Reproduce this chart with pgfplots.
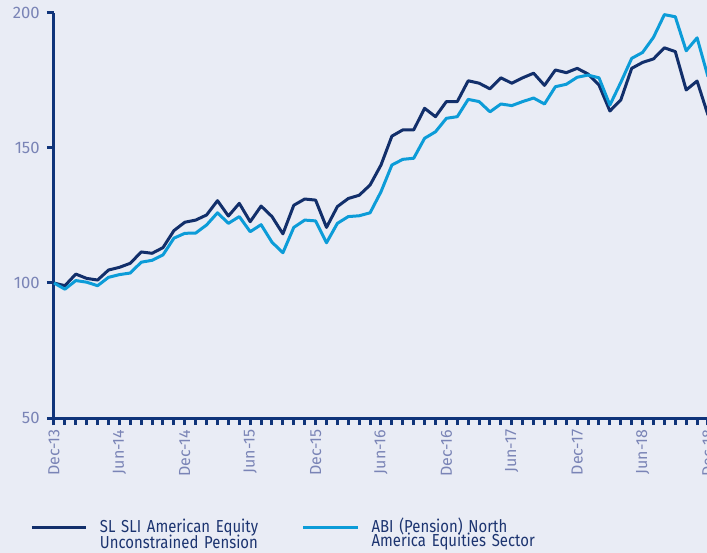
\documentclass[border=0pt]{standalone}
\usepackage{pgfplots}
\pgfplotsset{compat=1.18}
\usepackage{fontspec}
\setmainfont{Fira Sans}[FakeStretch=0.86]
\newfontfamily\tickfont{Fira Sans}
\definecolor{bg}{RGB}{233,236,245}
\definecolor{darkc}{RGB}{18,47,107}
\definecolor{lightc}{RGB}{12,156,216}
\definecolor{axisc}{RGB}{16,52,122}
\definecolor{tickc}{RGB}{122,132,182}
\definecolor{legc}{RGB}{28,52,112}
\pgfplotstableread{
i d l
0 100.0 100.0
1 99.0 97.7
2 103.3 100.9
3 101.7 100.3
4 101.1 99.0
5 104.8 102.1
6 105.8 103.1
7 107.3 103.7
8 111.5 107.7
9 111.0 108.4
10 113.1 110.4
11 119.4 116.6
12 122.5 118.4
13 123.3 118.5
14 125.2 121.5
15 130.5 126.0
16 124.8 122.1
17 129.5 124.6
18 122.7 119.0
19 128.5 121.6
20 124.6 115.1
21 118.2 111.2
22 128.8 120.6
23 131.1 123.3
24 130.7 123.0
25 120.6 114.9
26 128.3 122.1
27 131.3 124.6
28 132.5 124.9
29 136.3 126.0
30 143.7 133.8
31 154.4 143.7
32 156.7 145.8
33 156.7 146.2
34 164.7 153.6
35 161.6 156.0
36 167.2 161.0
37 167.2 161.6
38 174.9 168.0
39 174.0 167.2
40 171.9 163.4
41 176.0 166.3
42 174.0 165.7
43 176.0 167.2
44 177.7 168.5
45 173.2 166.3
46 178.9 172.7
47 177.9 173.6
48 179.5 176.2
49 177.4 177.0
50 173.3 176.0
51 163.7 165.9
52 167.8 174.3
53 179.5 183.2
54 181.7 185.4
55 183.0 191.0
56 187.1 199.4
57 185.7 198.6
58 171.5 186.0
59 174.8 190.8
60 162.2 176.4
}\datatable
\begin{document}
\begin{tikzpicture}
\fill[bg] (-40.5pt,-101.25pt) rectangle (489.75pt,313.5pt);
\begin{axis}[
  at={(0,0)}, anchor=south west,
  scale only axis, width=490.5pt, height=303.75pt,
  xmin=0, xmax=60, ymin=50, ymax=200,
  axis x line*=bottom, axis y line*=left,
  axis line style={draw=axisc, line width=2.25pt, -},
  xtick={0,6,...,60},
  xticklabels={Dec-13,Jun-14,Dec-14,Jun-15,Dec-15,Jun-16,Dec-16,Jun-17,Dec-17,Jun-18,Dec-18},
  minor xtick={0,...,60},
  ytick={50,100,150,200},
  tick align=outside,
  major tick length=5.25pt, minor tick length=5.25pt,
  every tick/.style={draw=axisc, line width=2.25pt},
  minor tick style={draw=axisc, line width=2.25pt},
  /pgf/number format/assume math mode=true,
  xticklabel style={rotate=90, anchor=east, font=\tickfont\fontsize{12}{14}\selectfont, text=tickc},
  yticklabel style={font=\tickfont\fontsize{12.5}{14}\selectfont, text=tickc, xshift=-2pt},
  clip=false,
  legend columns=2,
  legend style={at={(-0.0367,-0.247)}, anchor=north west, draw=none, fill=none, inner sep=0pt,
    font=\fontsize{13}{12.5}\selectfont, text=legc,
    cells={anchor=base west},
    nodes={text width=135pt, align=left, inner sep=0pt},
    /tikz/every odd column/.append style={column sep=9pt},
    /tikz/every even column/.append style={column sep=16.5pt}},
  legend image code/.code={\draw[#1] (0pt,4pt) -- (41pt,4pt);},
]
\addplot[darkc, line width=2.25pt, line join=round] table[x=i, y=d] {\datatable};
\addlegendentry{SL SLI American Equity\\[-2pt]Unconstrained Pension}
\addplot[lightc, line width=2.25pt, line join=round] table[x=i, y=l] {\datatable};
\addlegendentry{ABI (Pension) North\\[-2pt]America Equities Sector}
\end{axis}
\pgfresetboundingbox
\useasboundingbox (-40.5pt,-101.25pt) rectangle (489.75pt,313.5pt);
\end{tikzpicture}
\end{document}
